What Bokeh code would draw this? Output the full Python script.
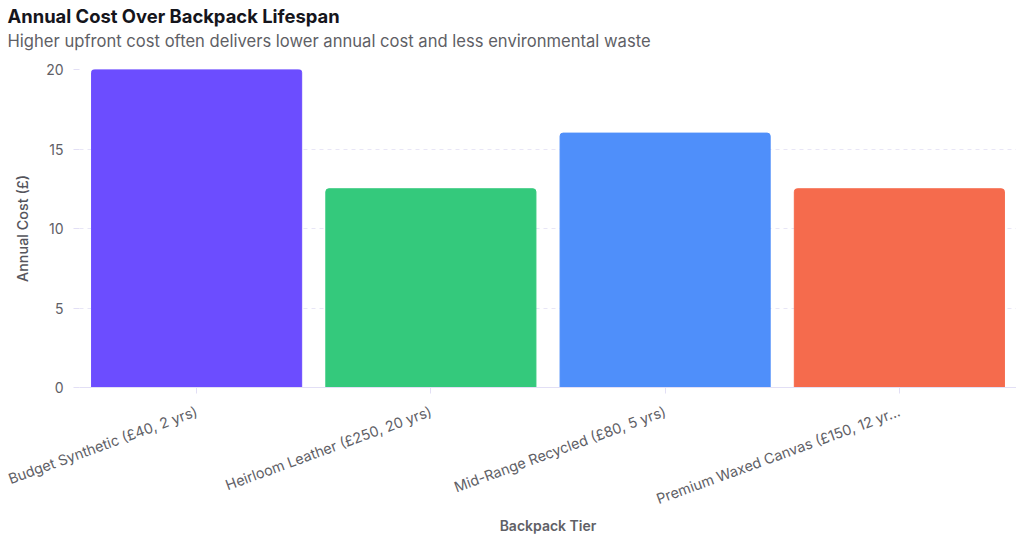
from bokeh.embed import file_html
from bokeh.models import ColumnDataSource, FactorRange, Range1d, Title
from bokeh.plotting import figure
from bokeh.resources import INLINE

tiers = [
    "Budget Synthetic (£40, 2 yrs)",
    "Heirloom Leather (£250, 20 yrs)",
    "Mid-Range Recycled (£80, 5 yrs)",
    "Premium Waxed Canvas (£150, 12 yr...",
]
annual_cost = [20, 12.5, 16, 12.5]
colors = ["#6c4dff", "#34c97c", "#4f8ffa", "#f56b4d"]
y_ticks = [0, 5, 10, 15, 20]

FONT = "Inter"
AXIS_COLOR = "#e2dff5"

source = ColumnDataSource(data={"tier": tiers, "cost": annual_cost, "color": colors})

p = figure(
    frame_width=937,
    frame_height=318,
    x_range=FactorRange(factors=tiers, range_padding=0, factor_padding=0),
    y_range=Range1d(0, 20),
    output_backend="svg",
    toolbar_location=None,
    min_border_left=79,
    min_border_right=0,
    min_border_top=69,
    min_border_bottom=0,
)

p.vbar(x="tier", top="cost", width=0.897, color="color", source=source,
       border_radius=(3, 3, 0, 0))

p.add_layout(Title(text="Higher upfront cost often delivers lower annual cost and less environmental waste",
                   text_font=FONT, text_font_size="16.6px", text_font_style="normal",
                   text_color="#5f5f66", offset=-72, standoff=38), "above")
p.add_layout(Title(text="Annual Cost Over Backpack Lifespan",
                   text_font=FONT, text_font_size="18.4px", text_font_style="bold",
                   text_color="#15151c", offset=-72, standoff=-34), "above")

p.outline_line_color = None
p.xgrid.grid_line_color = None
p.ygrid.grid_line_color = "#e8e6f6"
p.ygrid.grid_line_dash = "4 4"
p.ygrid.ticker = y_ticks

p.yaxis.ticker = y_ticks
p.yaxis.axis_line_color = None
p.yaxis.major_tick_line_color = AXIS_COLOR
p.yaxis.major_tick_out = 6
p.yaxis.major_tick_in = 0
p.yaxis.minor_tick_line_color = None
p.yaxis.major_label_standoff = 10
p.yaxis.major_label_text_font = FONT
p.yaxis.major_label_text_font_size = "14px"
p.yaxis.major_label_text_color = "#606066"
p.yaxis.axis_label = "Annual Cost (£)"
p.yaxis.axis_label_standoff = 12
p.yaxis.axis_label_text_font = "Inter Medium"
p.yaxis.axis_label_text_font_size = "14.4px"
p.yaxis.axis_label_text_font_style = "normal"
p.yaxis.axis_label_text_color = "#55555c"

p.xaxis.axis_line_color = AXIS_COLOR
p.xaxis.major_tick_line_color = AXIS_COLOR
p.xaxis.major_tick_out = 6
p.xaxis.major_tick_in = 0
p.xaxis.major_label_orientation = 0.35
p.xaxis.major_label_standoff = 17
p.xaxis.major_label_text_font = FONT
p.xaxis.major_label_text_font_size = "14.4px"
p.xaxis.major_label_text_color = "#606066"
p.xaxis.axis_label = "Backpack Tier"
p.xaxis.axis_label_standoff = -1
p.xaxis.axis_label_text_font = "Inter SemiBold"
p.xaxis.axis_label_text_font_size = "14px"
p.xaxis.axis_label_text_font_style = "normal"
p.xaxis.axis_label_text_color = "#606066"

open("out.html", "w").write(file_html(p, INLINE))
